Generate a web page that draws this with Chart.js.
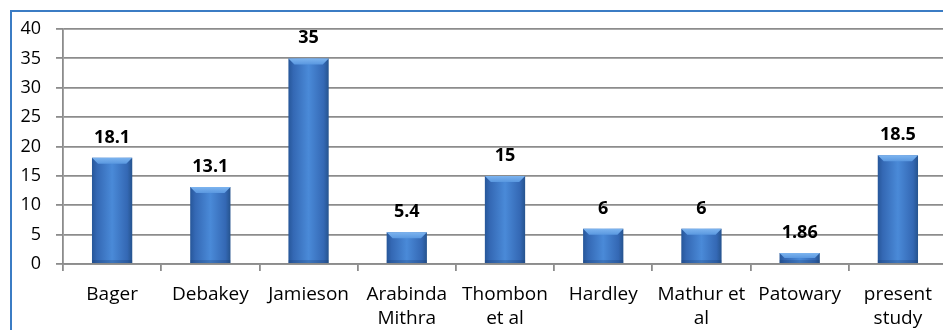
<!DOCTYPE html>
<html>
<head>
<meta charset="utf-8">
<script src="https://cdn.jsdelivr.net/npm/chart.js@4/dist/chart.umd.min.js"></script>
<style>
html,body{margin:0;padding:0;overflow:hidden;background:#fff;width:943px;height:330px;}
#wrap{position:absolute;left:0;top:0;width:960px;height:330px;}
#frame{position:absolute;left:10px;top:10px;width:960px;height:340px;border-left:2px solid #3b7cc4;border-top:2px solid #3b7cc4;box-sizing:border-box;}
canvas{position:absolute;left:0;top:0;}
</style>
</head>
<body>
<div id="wrap">
<div id="frame"></div>
<canvas id="c" width="960" height="330"></canvas>
</div>
<script>
const categories = ["Bager", "Debakey", "Jamieson", ["Arabinda", "Mithra"], ["Thombon", "et al"], "Hardley", ["Mathur et", "al"], "Patowary", ["present", "study"]];
const values = [18.1, 13.1, 35, 5.4, 15, 6, 6, 1.86, 18.5];
const yTicks = [0, 5, 10, 15, 20, 25, 30, 35, 40];

const FONT = "'Open Sans', 'DejaVu Sans', sans-serif";

function barGradient(context) {
  const chart = context.chart;
  const xs = chart.scales.x;
  if (!xs || !chart.chartArea) return '#3f7fcf';
  const cx = xs.getPixelForValue(context.dataIndex);
  const half = 20;
  const g = chart.ctx.createLinearGradient(cx - half, 0, cx + half, 0);
  g.addColorStop(0, '#27579a');
  g.addColorStop(0.12, '#3468b4');
  g.addColorStop(0.5, '#4a8ad8');
  g.addColorStop(0.88, '#3468b4');
  g.addColorStop(1, '#26548f');
  return g;
}

const bevelPlugin = {
  id: 'bevel',
  afterDatasetsDraw(chart) {
    const ctx = chart.ctx;
    const meta = chart.getDatasetMeta(0);
    ctx.save();
    meta.data.forEach((bar) => {
      const w = bar.width, x0 = bar.x - w / 2, x1 = bar.x + w / 2, top = bar.y;
      const bev = Math.min(6, (bar.base - top) / 2);
      const g = ctx.createLinearGradient(0, top, 0, top + bev);
      g.addColorStop(0, '#7db4ef');
      g.addColorStop(1, '#5a98e0');
      ctx.fillStyle = g;
      ctx.beginPath();
      ctx.moveTo(x0, top);
      ctx.lineTo(x1, top);
      ctx.lineTo(x1 - bev, top + bev);
      ctx.lineTo(x0 + bev, top + bev);
      ctx.closePath();
      ctx.fill();
      ctx.fillStyle = 'rgba(20,50,100,0.25)';
      ctx.fillRect(x0, bar.base - 3, w, 3);
    });
    ctx.restore();
  }
};

const labelPlugin = {
  id: 'valueLabels',
  afterDatasetsDraw(chart) {
    const ctx = chart.ctx;
    const meta = chart.getDatasetMeta(0);
    ctx.save();
    ctx.font = "bold 18px " + FONT;
    ctx.fillStyle = '#000';
    ctx.textAlign = 'center';
    ctx.textBaseline = 'alphabetic';
    meta.data.forEach((bar, i) => {
      ctx.fillText(String(values[i]), bar.x, bar.y - 15);
    });
    ctx.restore();
  }
};

new Chart(document.getElementById('c'), {
  type: 'bar',
  data: {
    labels: categories,
    datasets: [{
      data: values,
      backgroundColor: barGradient,
      borderWidth: 0,
      categoryPercentage: 1,
      barPercentage: 0.41
    }]
  },
  options: {
    responsive: false,
    animation: false,
    devicePixelRatio: 1,
    layout: { padding: { left: 0, top: 29, right: 13, bottom: 0 } },
    plugins: { legend: { display: false }, tooltip: { enabled: false } },
    scales: {
      x: {
        afterFit: (s) => { s.height = 66; },
        grid: { display: true, drawOnChartArea: false, drawTicks: true, tickLength: 7, color: '#8c8c8c', lineWidth: 1.8, offset: true },
        border: { display: true, color: '#8c8c8c', width: 1.8 },
        ticks: { color: '#000', font: { family: FONT, size: 19, lineHeight: 1.3 }, padding: 11, maxRotation: 0, autoSkip: false }
      },
      y: {
        min: 0, max: 40,
        afterFit: (s) => { s.width = 63; },
        afterBuildTicks: (s) => { s.ticks = yTicks.map(v => ({ value: v })); },
        grid: { color: '#8c8c8c', lineWidth: 1.8, tickLength: 7 },
        border: { display: true, color: '#8c8c8c', width: 1.8 },
        ticks: { color: '#000', font: { family: FONT, size: 18 }, padding: 15 }
      }
    }
  },
  plugins: [bevelPlugin, labelPlugin]
});
</script>
</body>
</html>
